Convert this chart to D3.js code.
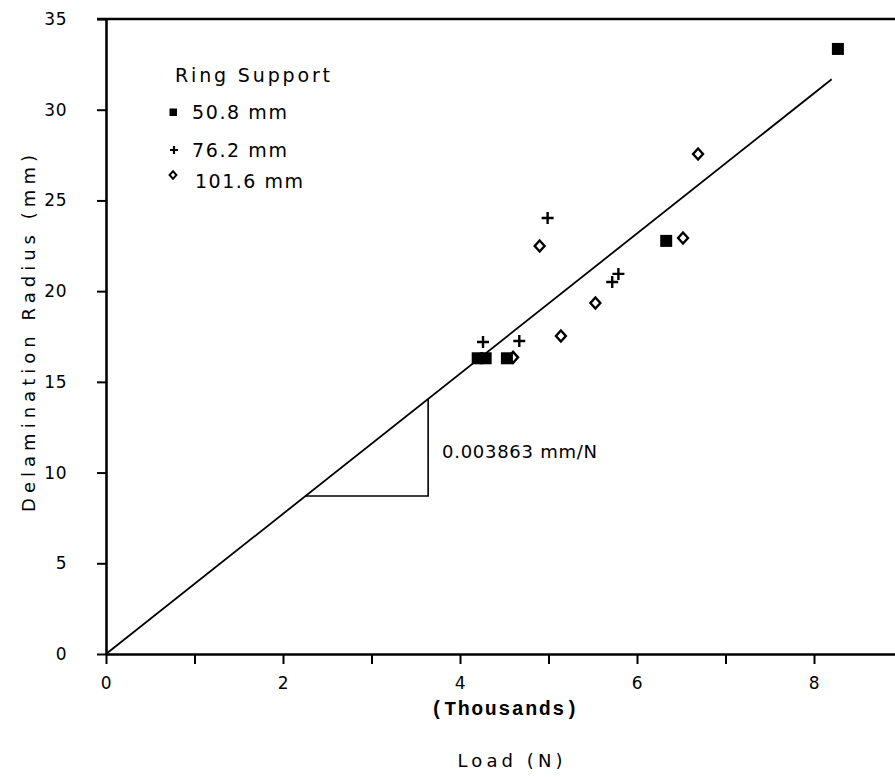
<!DOCTYPE html>
<html>
<head>
<meta charset="utf-8">
<script src="https://cdn.jsdelivr.net/npm/d3@7"></script>
<style>
  html, body { margin: 0; padding: 0; background: #fff; }
  svg { display: block; }
  text { font-family: "DejaVu Sans", "Liberation Sans", sans-serif; fill: #000; }
</style>
</head>
<body>
<svg id="chart" width="895" height="777"></svg>
<script>
// Load in thousands of N, delamination radius in mm
const ring508 = [[4.20, 16.3], [4.29, 16.3], [4.53, 16.3], [6.33, 22.77], [8.27, 33.35]];
const ring762 = [[4.26, 17.2], [4.67, 17.25], [4.99, 24.03], [5.72, 20.5], [5.79, 20.95]];
const ring1016 = [[4.60, 16.35], [4.90, 22.49], [5.14, 17.53], [5.53, 19.35], [6.52, 22.93], [6.69, 27.56]];

const slopePerN = 0.003863;          // mm/N
const fitEndLoad = 8.2;              // thousands of N
const triangleLoad = 3.64;           // vertical leg of slope triangle
const triangleBase = 8.71;           // mm, horizontal leg of slope triangle

const xTicks = [0, 1, 2, 3, 4, 5, 6, 7, 8, 9];
const xTickLabels = ["0", "", "2", "", "4", "", "6", "", "8", ""];
const yTicks = [0, 5, 10, 15, 20, 25, 30, 35];

const legendTitle = "Ring Support";
const legendLabels = ["50.8 mm", "76.2 mm", "101.6 mm"];

const svg = d3.select("#chart");

const x = d3.scaleLinear().domain([0, 9]).range([106, 902.5]);
const y = d3.scaleLinear().domain([0, 35]).range([654, 19]);

// axes
const xAxis = d3.axisBottom(x)
  .tickValues(xTicks)
  .tickSize(10)
  .tickSizeOuter(0)
  .tickPadding(13)
  .tickFormat((d, i) => xTickLabels[i]);

const gx = svg.append("g").attr("transform", `translate(0,${y(0)})`).call(xAxis);
gx.select(".domain").attr("stroke", "#000").attr("stroke-width", 2.6);
gx.selectAll(".tick line").attr("stroke", "#000").attr("stroke-width", 2);
gx.selectAll(".tick text")
  .attr("font-size", 17).attr("letter-spacing", 0.5)
  .style("font-family", "'DejaVu Sans', sans-serif");

const yAxis = d3.axisLeft(y)
  .tickValues(yTicks)
  .tickSize(9)
  .tickSizeOuter(0)
  .tickPadding(30)
  .tickFormat(d3.format("d"));

const gy = svg.append("g").attr("transform", `translate(${x(0)},0)`).call(yAxis);
gy.select(".domain").attr("stroke", "#000").attr("stroke-width", 2.6);
gy.selectAll(".tick line").attr("stroke", "#000").attr("stroke-width", 2);
gy.selectAll(".tick text")
  .attr("font-size", 17).attr("letter-spacing", 0.5)
  .style("font-family", "'DejaVu Sans', sans-serif");

// top frame line
svg.append("line")
  .attr("x1", x(0) - 9).attr("x2", x(9))
  .attr("y1", y(35)).attr("y2", y(35))
  .attr("stroke", "#000").attr("stroke-width", 2.6);

// axis titles
svg.append("text")
  .attr("transform", `translate(35,${(y(0) + y(35)) / 2 - 3}) rotate(-90)`)
  .attr("text-anchor", "middle")
  .attr("font-size", 18)
  .attr("textLength", 357).attr("lengthAdjust", "spacing")
  .text("Delamination Radius (mm)");

svg.append("text")
  .attr("x", (x(0) + x(9)) / 2).attr("y", 715)
  .attr("text-anchor", "middle")
  .attr("font-size", 20).attr("font-weight", "bold")
  .style("font-family", "'Liberation Mono', 'Courier New', monospace")
  .attr("textLength", 147).attr("lengthAdjust", "spacing")
  .text("(Thousands)");

svg.append("text")
  .attr("x", 510).attr("y", 767)
  .attr("text-anchor", "middle")
  .attr("font-size", 18)
  .attr("textLength", 105).attr("lengthAdjust", "spacing")
  .text("Load (N)");

// fitted line through the origin
const slopeK = slopePerN * 1000;     // mm per thousand N
svg.append("line")
  .attr("x1", x(0)).attr("y1", y(0))
  .attr("x2", x(fitEndLoad)).attr("y2", y(slopeK * fitEndLoad))
  .attr("stroke", "#000").attr("stroke-width", 1.8);

// slope triangle
const triPts = [
  [triangleBase / slopeK, triangleBase],
  [triangleLoad, triangleBase],
  [triangleLoad, slopeK * triangleLoad]
];
svg.append("path")
  .attr("d", d3.line().x(d => x(d[0])).y(d => y(d[1]))(triPts))
  .attr("fill", "none").attr("stroke", "#000").attr("stroke-width", 1.6);

svg.append("text")
  .attr("x", 442).attr("y", 458)
  .attr("font-size", 18)
  .attr("textLength", 155).attr("lengthAdjust", "spacing")
  .text(`${slopePerN} mm/N`);

// markers
const diamond = (s) => `M0,${-s}L${s * 0.9},0L0,${s}L${-s * 0.9},0Z`;
const plus = (s) => `M${-s},0H${s}M0,${-s}V${s}`;

svg.append("g").selectAll("path").data(ring1016).join("path")
  .attr("transform", d => `translate(${x(d[0])},${y(d[1])})`)
  .attr("d", diamond(5.5))
  .attr("fill", "#fff").attr("stroke", "#000").attr("stroke-width", 2.4);

svg.append("g").selectAll("path").data(ring762).join("path")
  .attr("transform", d => `translate(${x(d[0])},${y(d[1])})`)
  .attr("d", plus(6))
  .attr("fill", "none").attr("stroke", "#000").attr("stroke-width", 2.4);

svg.append("g").selectAll("rect").data(ring508).join("rect")
  .attr("x", d => x(d[0]) - 6).attr("y", d => y(d[1]) - 6)
  .attr("width", 12).attr("height", 12)
  .attr("fill", "#000");

// legend
const lg = svg.append("g");
lg.append("text").attr("x", 175).attr("y", 82).attr("font-size", 19)
  .attr("textLength", 155).attr("lengthAdjust", "spacing").text(legendTitle);

const legendRows = [
  { y: 119, w: 95 },
  { y: 157, w: 95 },
  { y: 188, w: 108 }
];
legendRows.forEach((r, i) => {
  lg.append("text").attr("x", i === 2 ? 195 : 192).attr("y", r.y).attr("font-size", 19)
    .attr("textLength", r.w).attr("lengthAdjust", "spacing").text(legendLabels[i]);
});
lg.append("rect").attr("x", 169.5).attr("y", 108.5).attr("width", 7.5).attr("height", 7.5).attr("fill", "#000");
lg.append("path").attr("transform", "translate(174,150)").attr("d", plus(4))
  .attr("stroke", "#000").attr("stroke-width", 2.2).attr("fill", "none");
lg.append("path").attr("transform", "translate(173,175)").attr("d", diamond(3.8))
  .attr("fill", "#fff").attr("stroke", "#000").attr("stroke-width", 2);
</script>
</body>
</html>
